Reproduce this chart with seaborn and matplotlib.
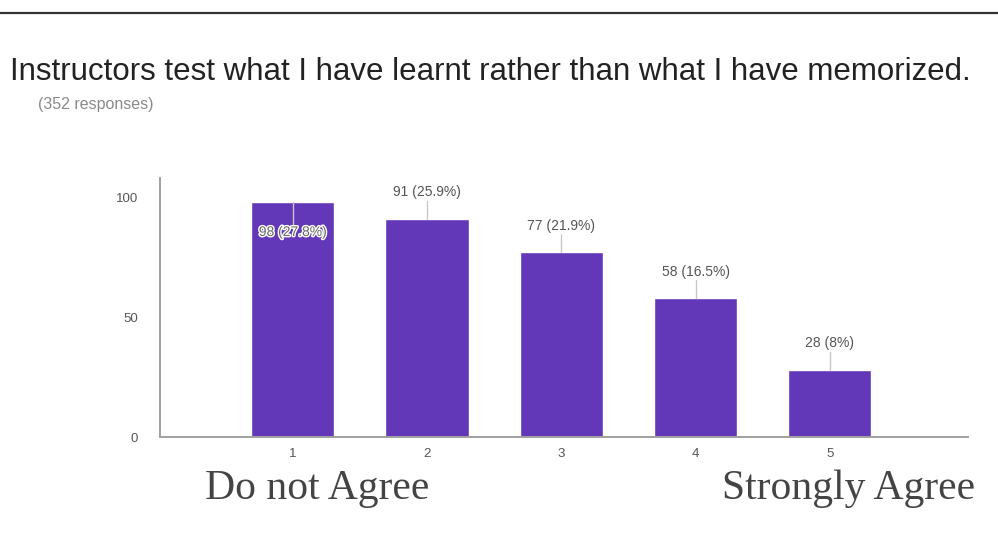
import seaborn as sns
import matplotlib.pyplot as plt
import matplotlib.lines as mlines
import matplotlib.patheffects as pe
import pandas as pd

# Survey data
categories = ['1', '2', '3', '4', '5']
counts = [98, 91, 77, 58, 28]
labels = ['98 (27.8%)', '91 (25.9%)', '77 (21.9%)', '58 (16.5%)', '28 (8%)']
total_responses = 352

df = pd.DataFrame({'rating': categories, 'count': counts})

sns.set_style("white")
plt.rcParams['font.family'] = ['Liberation Sans', 'DejaVu Sans']

fig = plt.figure(figsize=(9.98, 5.42), dpi=100)
W, H = 998, 542

# top rule
fig.add_artist(mlines.Line2D([0, 1], [1 - 13 / H, 1 - 13 / H], color='#333333', lw=1.6))

fig.text(10 / W, 1 - 72 / H, "Instructors test what I have learnt rather than what I have memorized.",
         fontsize=22.5, color='#222222', va='center', ha='left')
fig.text(38 / W, 1 - 105 / H, f"({total_responses} responses)", fontsize=11.5, color='#8a8a8a',
         va='center', ha='left')

ax = fig.add_axes([160 / W, (H - 437) / H, (968 - 160) / W, (437 - 178) / H])
sns.barplot(data=df, x='rating', y='count', color='#6238b8', width=0.62, saturation=1, ax=ax)

ax.set_xlim(-0.99, 5.03)
ax.set_ylim(0, 108)
ax.set_yticks([0, 50, 100])
ax.set_xlabel('')
ax.set_ylabel('')
ax.tick_params(axis='both', length=0, labelsize=9.5, labelcolor='#555555')
ax.tick_params(axis='y', pad=16)
ax.tick_params(axis='x', pad=8)
for s in ['top', 'right']:
    ax.spines[s].set_visible(False)
for s in ['left', 'bottom']:
    ax.spines[s].set_color('#a0a0a0')
    ax.spines[s].set_linewidth(1.4)

# value labels with leader lines
for i, (c, lab) in enumerate(zip(counts, labels)):
    if i == 0:
        ty = c - 12.5
        ax.plot([i, i], [c, ty + 1], color='#c8c8c8', lw=1)
        ax.text(i, ty, lab, ha='center', va='center', fontsize=10, color='#666666',
                path_effects=[pe.withStroke(linewidth=2, foreground='white')])
    else:
        ty = c + 11
        ax.plot([i, i], [c, ty - 3.5], color='#c8c8c8', lw=1)
        ax.text(i, ty, lab, ha='center', va='center', fontsize=10, color='#555555')

fig.text(205 / W, 1 - 489 / H, "Do not Agree", fontsize=30, family='Liberation Serif',
         color='#444444', ha='left', va='center')
fig.text(975 / W, 1 - 489 / H, "Strongly Agree", fontsize=30, family='Liberation Serif',
         color='#444444', ha='right', va='center')

fig.savefig('out.png', dpi=100)
